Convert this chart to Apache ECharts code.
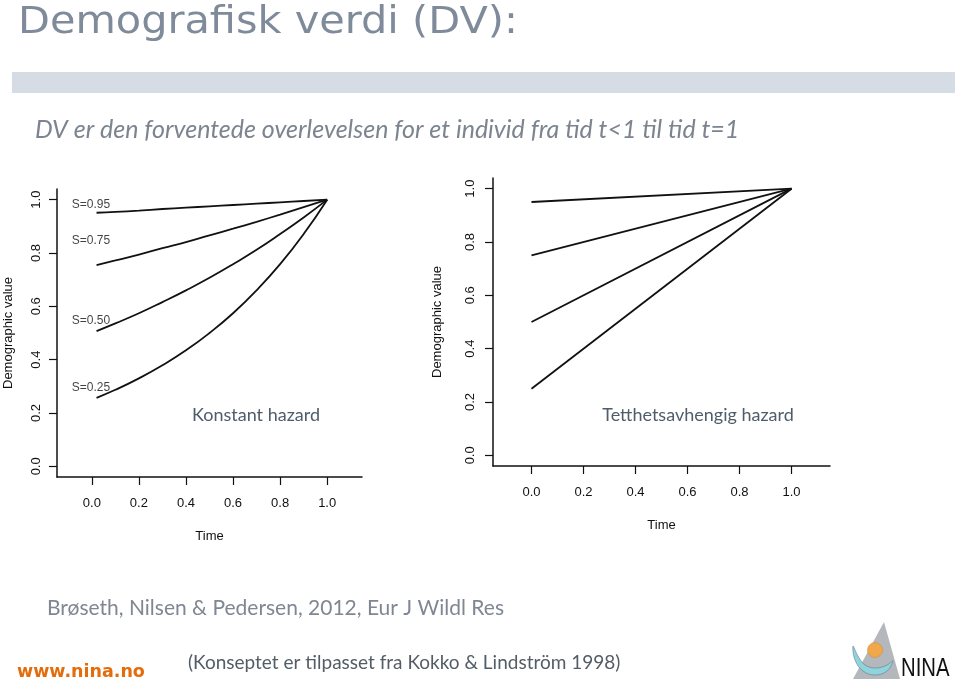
<!DOCTYPE html>
<html><head><meta charset="utf-8">
<script src="https://cdn.jsdelivr.net/npm/echarts@6/dist/echarts.min.js"></script>
<style>html,body{margin:0;padding:0;background:#fff}#c{width:959px;height:681px}</style>
</head><body><div id="c"></div>
<script>
// ---- data ----
const tickValues = [0, 0.2, 0.4, 0.6, 0.8, 1.0];
const survival = [0.95, 0.75, 0.50, 0.25];
const sLabels = ['S=0.95', 'S=0.75', 'S=0.50', 'S=0.25'];
const sLabelX = -0.085;
const sLabelY = [0.98, 0.845, 0.545, 0.295];
// constant hazard (left panel), read at these times
const timeConst = [0.02, 0.1, 0.2, 0.3, 0.4, 0.5, 0.6, 0.7, 0.8, 0.9, 1.0];
const dvConst095 = [0.951, 0.954, 0.959, 0.965, 0.970, 0.975, 0.980, 0.985, 0.990, 0.995, 1.0];
const dvConst075 = [0.755, 0.772, 0.794, 0.818, 0.841, 0.866, 0.891, 0.917, 0.944, 0.972, 1.0];
const dvConst050 = [0.507, 0.536, 0.574, 0.616, 0.660, 0.707, 0.758, 0.812, 0.871, 0.933, 1.0];
const dvConst025 = [0.257, 0.287, 0.330, 0.379, 0.435, 0.500, 0.574, 0.660, 0.758, 0.871, 1.0];
// density-dependent hazard (right panel)
const timeDens = [0.0, 1.0];
const dvDens095 = [0.95, 1.0];
const dvDens075 = [0.75, 1.0];
const dvDens050 = [0.50, 1.0];
const dvDens025 = [0.25, 1.0];

const constSets = [dvConst095, dvConst075, dvConst050, dvConst025];
const densSets = [dvDens095, dvDens075, dvDens050, dvDens025];

const axisFont = 'Liberation Sans, Arial, sans-serif';
const slideFont = 'Lato, "Open Sans", sans-serif';

function xAx(gi, gap) {
  return {
    type: 'value', gridIndex: gi, min: -0.148, max: 1.148,
    axisLine: { show: true, onZero: false, lineStyle: { color: '#111', width: 1.5 } },
    axisTick: { show: true, length: 8, customValues: tickValues, lineStyle: { color: '#111', width: 1.2 } },
    axisLabel: { customValues: tickValues, margin: 20, fontFamily: axisFont, fontSize: 13, color: '#111',
      formatter: v => v.toFixed(1) },
    splitLine: { show: false },
    name: 'Time', nameLocation: 'middle', nameGap: gap,
    nameTextStyle: { fontFamily: axisFont, fontSize: 13, color: '#111' }
  };
}
function yAx(gi, margin, gap) {
  return {
    type: 'value', gridIndex: gi, min: -0.04, max: 1.04,
    axisLine: { show: true, onZero: false, lineStyle: { color: '#111', width: 1.5 } },
    axisTick: { show: true, length: 8, customValues: tickValues, lineStyle: { color: '#111', width: 1.2 } },
    axisLabel: { customValues: tickValues, rotate: 90, margin: margin, fontFamily: axisFont, fontSize: 13, color: '#111',
      formatter: v => v.toFixed(1) },
    splitLine: { show: false },
    name: 'Demographic value', nameLocation: 'middle', nameGap: gap, nameRotate: 90,
    nameTextStyle: { fontFamily: axisFont, fontSize: 13, color: '#111' }
  };
}

const series = [];
constSets.forEach(arr => {
  series.push({ type: 'line', xAxisIndex: 0, yAxisIndex: 0, showSymbol: false, smooth: true,
    lineStyle: { color: '#111', width: 1.8 }, data: timeConst.map((t, i) => [t, arr[i]]), animation: false });
});
densSets.forEach(arr => {
  series.push({ type: 'line', xAxisIndex: 1, yAxisIndex: 1, showSymbol: false,
    lineStyle: { color: '#111', width: 1.8 }, data: timeDens.map((t, i) => [t, arr[i]]), animation: false });
});
series.push({ type: 'scatter', xAxisIndex: 0, yAxisIndex: 0, symbolSize: 0, animation: false,
  data: sLabels.map((s, i) => ({ name: s, value: [sLabelX, sLabelY[i]] })),
  label: { show: true, position: 'right', distance: 0, formatter: p => p.name, fontFamily: axisFont, fontSize: 12, color: '#111' } });

function txt(x, y, text, font, fill, align, extra) {
  return Object.assign({ type: 'text', x: x, y: y, style: { text: text, font: font, fill: fill, align: align || 'left', verticalAlign: 'middle' } }, extra || {});
}

const option = {
  backgroundColor: '#fff',
  animation: false,
  grid: [
    { left: 57, top: 189, width: 305, height: 288 },
    { left: 493, top: 178, width: 337, height: 288 }
  ],
  xAxis: [xAx(0, 53), xAx(1, 53)],
  yAxis: [yAx(0, 14, 42), yAx(1, 16, 49)],
  series: series,
  graphic: [
    txt(18, 23, 'Demografisk verdi (DV):', '37px "DejaVu Sans", Verdana, sans-serif', '#7f8b9b', 'left', { scaleX: 1.12, originX: 0, originY: 0 }),
    { type: 'rect', shape: { x: 12, y: 72, width: 943, height: 21 }, style: { fill: '#d6dce4' } },
    txt(35, 130, 'DV er den forventede overlevelsen for et individ fra tid t<1 til tid t=1', 'italic 25px ' + slideFont, '#7c8490'),
    txt(256, 415, 'Konstant hazard', '18px ' + slideFont, '#4f5c69', 'center'),
    txt(698, 415, 'Tetthetsavhengig hazard', '18px ' + slideFont, '#4f5c69', 'center'),
    txt(47, 608, 'Brøseth, Nilsen & Pedersen, 2012, Eur J Wildl Res', '21px ' + slideFont, '#7f8792'),
    txt(188, 663, '(Konseptet er tilpasset fra Kokko & Lindström 1998)', '19px ' + slideFont, '#545c66'),
    txt(17, 672, 'www.nina.no', 'bold 17.5px "DejaVu Sans", Verdana, sans-serif', '#e46c0a'),
    // NINA logo
    { type: 'polygon', shape: { points: [[884, 622], [853, 679], [900, 679]] }, style: { fill: '#b4b8bd' } },
    { type: 'polygon', shape: { smooth: 0.4, points: [[853, 646], [855, 660], [863, 671], [875, 675], [887, 671], [893, 661], [887, 665], [876, 668], [865, 665], [858, 656]] }, style: { fill: '#8fd3dd', stroke: '#5a6b7a', lineWidth: 0.5 } },
    { type: 'circle', shape: { cx: 875, cy: 650, r: 7.5 }, style: { fill: '#f0a84a', stroke: '#c98a30', lineWidth: 0.5 } },
    txt(901, 669, 'NINA', '26px "Liberation Sans", sans-serif', '#111', 'left', { scaleX: 0.78, originX: 0, originY: 0 })
  ]
};
echarts.init(document.getElementById('c'), null, { renderer: 'canvas' }).setOption(option);
</script></body></html>
